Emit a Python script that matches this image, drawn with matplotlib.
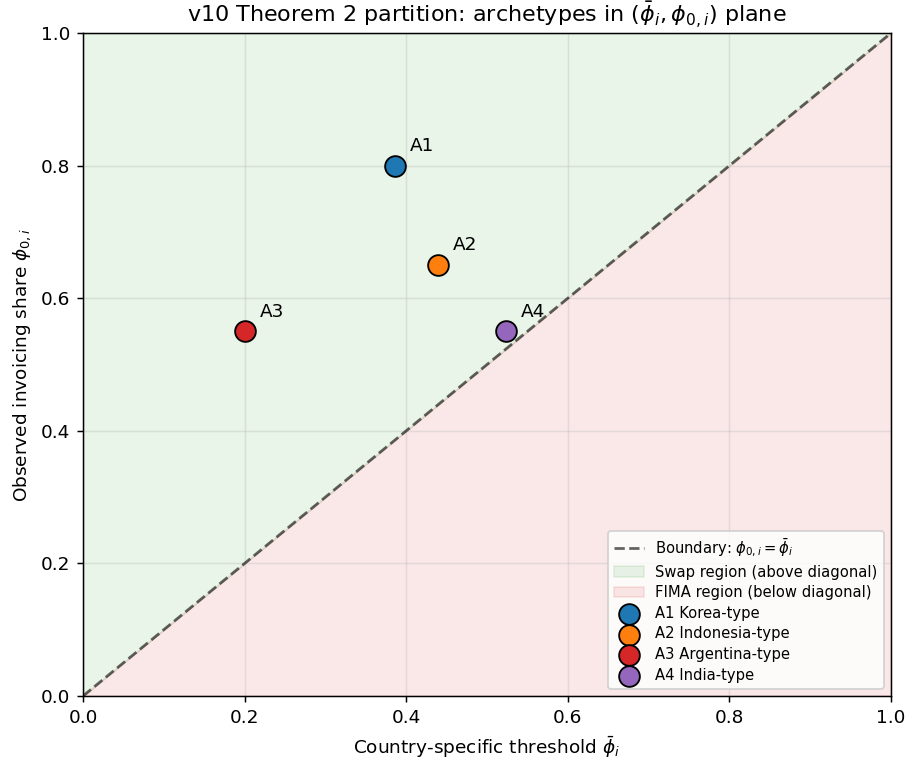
import matplotlib
matplotlib.use("Agg")
import matplotlib.pyplot as plt
import numpy as np

# archetype positions (threshold, observed share)
labels = ["A1", "A2", "A3", "A4"]
names = ["A1 Korea-type", "A2 Indonesia-type", "A3 Argentina-type", "A4 India-type"]
phi_bar = [0.386, 0.439, 0.200, 0.524]
phi_0 = [0.80, 0.65, 0.55, 0.55]
colors = ["tab:blue", "tab:orange", "tab:red", "tab:purple"]

DPI = 133.33
fig = plt.figure(figsize=(909 / DPI, 763 / DPI), dpi=DPI)
ax = fig.add_axes([0.0913, 0.0878, 0.8889, 0.8689])

diag = np.array([0.0, 1.0])
ax.fill_between(diag, diag, 1, color="tab:green", alpha=0.1,
                label="Swap region (above diagonal)")
ax.fill_between(diag, 0, diag, color="tab:red", alpha=0.1,
                label="FIMA region (below diagonal)")
ax.plot(diag, diag, "--", color="k", alpha=0.6, lw=1.5,
        label=r"Boundary: $\phi_{0,i} = \bar{\phi}_i$")

for lab, nm, x, y, c in zip(labels, names, phi_bar, phi_0, colors):
    ax.scatter(x, y, s=125, color=c, edgecolors="k", linewidths=1.0, zorder=5, label=nm)
    ax.annotate(lab, (x, y), xytext=(8, 8), textcoords="offset points", fontsize=10)

ax.set_xlim(0, 1)
ax.set_ylim(0, 1)
ax.grid(alpha=0.3)
ax.set_xlabel(r"Country-specific threshold $\bar{\phi}_i$")
ax.set_ylabel(r"Observed invoicing share $\phi_{0,i}$")
ax.set_title(r"v10 Theorem 2 partition: archetypes in $(\bar{\phi}_i, \phi_{0,i})$ plane")

handles, lbls = ax.get_legend_handles_labels()
order = [2, 0, 1, 3, 4, 5, 6]
ax.legend([handles[i] for i in order], [lbls[i] for i in order],
          loc="lower right", fontsize=8, labelspacing=0.38)

fig.savefig("out.png", dpi=DPI)
